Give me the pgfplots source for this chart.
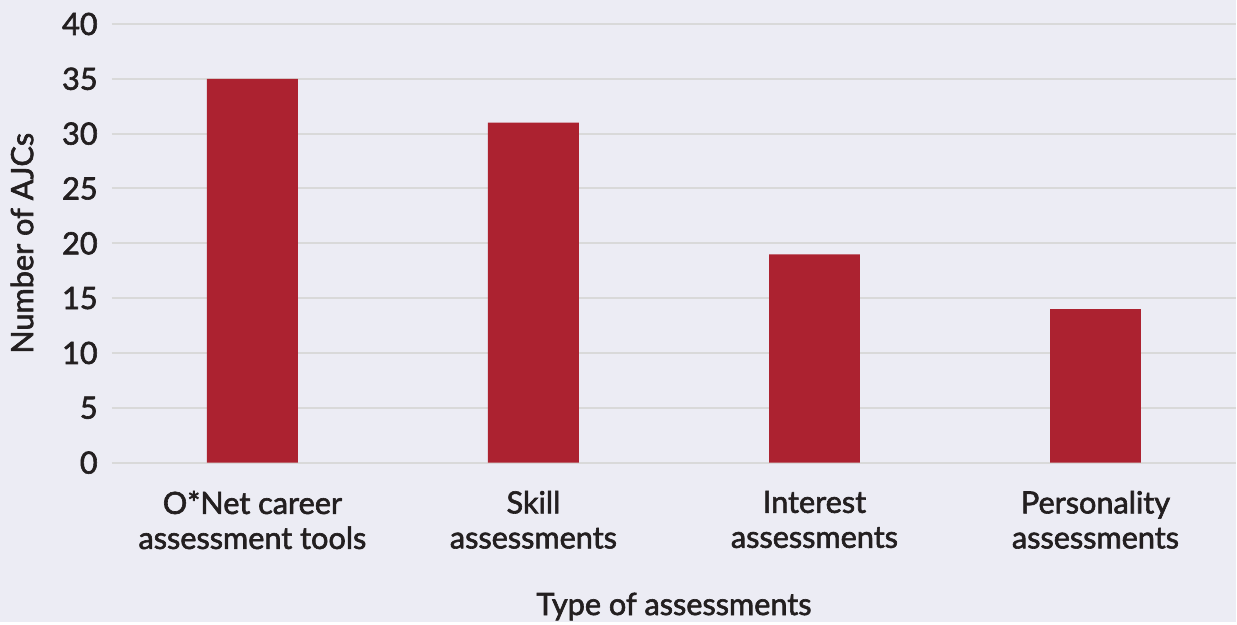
\documentclass[border=0pt]{standalone}
\usepackage{fontspec}
\setmainfont{Lato}
\newfontfamily\semi{Lato}[FakeBold=2]
\usepackage{pgfplots}
\pgfplotsset{compat=1.18}
\definecolor{bg}{HTML}{ECECF4}
\definecolor{barred}{HTML}{AC2230}
\definecolor{gridgray}{HTML}{D9D9D9}
\definecolor{txt}{HTML}{231F20}
\newcommand{\ff}{\semi\fontsize{23}{26.25}\selectfont}
\begin{document}
\begin{tikzpicture}
\fill[bg] (0,0) rectangle (927.75pt,467.25pt);
\begin{axis}[
  at={(84pt,120pt)}, anchor=south west,
  scale only axis, width=843.75pt, height=329.25pt,
  xmin=-0.5, xmax=3.5, ymin=0, ymax=40,
  ytick={0,5,...,40}, xtick={0,1,2,3},
  xticklabels={{O*Net career\\assessment tools},{Skill\\assessments},{Interest\\assessments},{Personality\\assessments}},
  axis line style={draw=none},
  major tick length=0pt,
  ymajorgrids, grid style={gridgray, line width=1.5pt},
  ybar, bar width=68.25pt,
  /pgf/number format/assume math mode=true,
  every tick label/.append style={font=\ff, text=txt},
  yticklabel style={inner sep=0pt, xshift=-10.5pt},
  xticklabel style={align=center, inner sep=0pt, yshift=-21pt},
  label style={font=\ff, text=txt},
  xlabel={Type of assessments},
  ylabel={Number of AJCs},
  xlabel style={at={(axis description cs:0.5,0)}, anchor=center, yshift=-108pt},
  ylabel style={at={(axis description cs:-0.08,0.5)}, anchor=center},
]
\addplot[fill=barred, draw=none] coordinates {(0,35) (1,31) (2,19) (3,14)};
\end{axis}
\end{tikzpicture}
\end{document}
